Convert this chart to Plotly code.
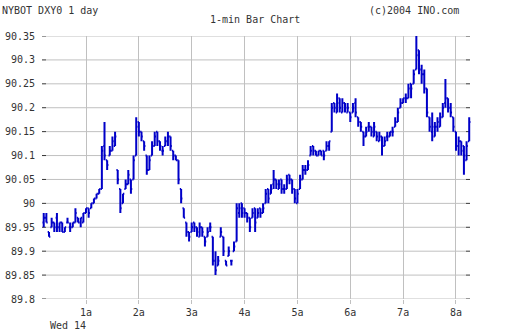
import pandas as pd
import plotly.graph_objects as go

# 3-minute bars, NYBOT DXY0, Wed 14
start_time = "2004-01-14 00:12"
bar_minutes = 3

lows = [89.95, 89.96, 89.93, 89.95, 89.94, 89.94, 89.94, 89.94, 89.94, 89.96,
        89.94, 89.95, 89.96, 89.96, 89.95, 89.96, 89.98, 89.97, 89.99, 90.00,
        90.01, 90.02, 90.03, 90.09, 90.07, 90.10, 90.11, 90.12, 90.04, 89.98,
        90.00, 90.03, 90.04, 90.02, 90.05, 90.10, 90.14, 90.13, 90.11, 90.06,
        90.07, 90.10, 90.12, 90.12, 90.11, 90.10, 90.12, 90.12, 90.11, 90.09,
        90.09, 90.04, 90.00, 89.97, 89.93, 89.92, 89.94, 89.94, 89.93, 89.93,
        89.93, 89.91, 89.93, 89.94, 89.87, 89.85, 89.87, 89.93, 89.89, 89.87,
        89.89, 89.87, 89.90, 89.92, 89.97, 89.97, 89.97, 89.96, 89.94, 89.97,
        89.94, 89.97, 89.97, 89.98, 90.00, 90.00, 90.02, 90.03, 90.03, 90.03,
        90.02, 90.02, 90.03, 90.04, 90.02, 90.00, 90.00, 90.03, 90.05, 90.06,
        90.07, 90.10, 90.10, 90.10, 90.10, 90.10, 90.09, 90.11, 90.11, 90.15,
        90.19, 90.19, 90.19, 90.19, 90.19, 90.19, 90.17, 90.19, 90.18, 90.16,
        90.15, 90.12, 90.14, 90.15, 90.14, 90.14, 90.13, 90.13, 90.10, 90.12,
        90.13, 90.14, 90.14, 90.16, 90.17, 90.20, 90.21, 90.21, 90.22, 90.22,
        90.25, 90.28, 90.27, 90.25, 90.23, 90.18, 90.15, 90.13, 90.14, 90.15,
        90.16, 90.18, 90.20, 90.19, 90.18, 90.15, 90.11, 90.10, 90.10, 90.06,
        90.09, 90.13]

highs = [89.98, 89.98, 89.94, 89.97, 89.96, 89.98, 89.96, 89.96, 89.95, 89.97,
         89.96, 89.96, 89.99, 89.97, 89.97, 89.98, 89.99, 89.99, 90.00, 90.01,
         90.02, 90.03, 90.12, 90.17, 90.09, 90.12, 90.14, 90.15, 90.07, 90.03,
         90.02, 90.05, 90.07, 90.05, 90.10, 90.18, 90.17, 90.15, 90.13, 90.10,
         90.10, 90.13, 90.15, 90.15, 90.13, 90.12, 90.14, 90.15, 90.14, 90.11,
         90.10, 90.09, 90.03, 89.99, 89.96, 89.94, 89.96, 89.96, 89.95, 89.96,
         89.95, 89.93, 89.95, 89.96, 89.93, 89.90, 89.89, 89.95, 89.93, 89.88,
         89.91, 89.88, 89.92, 90.00, 90.00, 90.00, 89.99, 89.98, 89.97, 89.99,
         89.99, 89.99, 89.99, 90.00, 90.03, 90.03, 90.04, 90.07, 90.05, 90.05,
         90.05, 90.04, 90.06, 90.06, 90.05, 90.03, 90.03, 90.06, 90.08, 90.08,
         90.09, 90.12, 90.12, 90.11, 90.11, 90.11, 90.11, 90.13, 90.13, 90.21,
         90.21, 90.23, 90.22, 90.22, 90.21, 90.21, 90.19, 90.21, 90.22, 90.18,
         90.17, 90.15, 90.16, 90.17, 90.16, 90.17, 90.15, 90.15, 90.14, 90.14,
         90.15, 90.15, 90.16, 90.18, 90.20, 90.22, 90.22, 90.23, 90.25, 90.25,
         90.28, 90.35, 90.32, 90.29, 90.28, 90.24, 90.18, 90.19, 90.17, 90.18,
         90.19, 90.21, 90.26, 90.22, 90.21, 90.18, 90.15, 90.14, 90.13, 90.12,
         90.13, 90.18]

opens = [89.96, 89.97, 89.94, 89.95, 89.96, 89.97, 89.95, 89.96, 89.94, 89.96,
         89.95, 89.95, 89.96, 89.97, 89.96, 89.96, 89.98, 89.99, 89.99, 90.00,
         90.01, 90.02, 90.03, 90.12, 90.09, 90.10, 90.11, 90.12, 90.07, 90.03,
         90.00, 90.03, 90.04, 90.05, 90.05, 90.10, 90.17, 90.15, 90.13, 90.10,
         90.07, 90.10, 90.12, 90.15, 90.13, 90.11, 90.12, 90.13, 90.14, 90.11,
         90.10, 90.09, 90.03, 89.99, 89.96, 89.94, 89.94, 89.96, 89.95, 89.93,
         89.95, 89.93, 89.93, 89.95, 89.93, 89.88, 89.87, 89.93, 89.93, 89.88,
         89.89, 89.88, 89.90, 89.92, 89.98, 90.00, 89.99, 89.98, 89.97, 89.97,
         89.99, 89.97, 89.99, 89.98, 90.00, 90.03, 90.02, 90.04, 90.05, 90.03,
         90.05, 90.03, 90.03, 90.06, 90.05, 90.03, 90.00, 90.03, 90.05, 90.07,
         90.07, 90.10, 90.12, 90.11, 90.10, 90.11, 90.11, 90.11, 90.12, 90.15,
         90.21, 90.19, 90.22, 90.19, 90.21, 90.19, 90.19, 90.19, 90.21, 90.18,
         90.17, 90.15, 90.14, 90.16, 90.16, 90.14, 90.15, 90.13, 90.14, 90.12,
         90.14, 90.14, 90.15, 90.16, 90.17, 90.20, 90.21, 90.22, 90.22, 90.25,
         90.25, 90.28, 90.32, 90.28, 90.27, 90.24, 90.18, 90.15, 90.14, 90.16,
         90.16, 90.18, 90.21, 90.22, 90.20, 90.18, 90.15, 90.12, 90.13, 90.12,
         90.09, 90.13]

closes = [89.97, 89.96, 89.93, 89.96, 89.95, 89.95, 89.96, 89.94, 89.95, 89.96,
          89.95, 89.96, 89.98, 89.96, 89.97, 89.98, 89.99, 89.98, 90.00, 90.01,
          90.02, 90.03, 90.11, 90.10, 90.08, 90.11, 90.13, 90.14, 90.05, 89.99,
          90.02, 90.04, 90.06, 90.03, 90.09, 90.16, 90.15, 90.14, 90.12, 90.07,
          90.09, 90.12, 90.14, 90.13, 90.12, 90.11, 90.13, 90.14, 90.12, 90.10,
          90.09, 90.05, 90.01, 89.97, 89.94, 89.93, 89.95, 89.95, 89.94, 89.95,
          89.94, 89.92, 89.94, 89.95, 89.88, 89.86, 89.88, 89.94, 89.90, 89.87,
          89.90, 89.88, 89.91, 89.99, 89.99, 89.98, 89.98, 89.97, 89.95, 89.98,
          89.96, 89.98, 89.98, 89.99, 90.02, 90.01, 90.03, 90.05, 90.04, 90.04,
          90.03, 90.03, 90.05, 90.05, 90.03, 90.01, 90.02, 90.05, 90.07, 90.07,
          90.08, 90.11, 90.11, 90.10, 90.11, 90.10, 90.10, 90.12, 90.13, 90.20,
          90.20, 90.21, 90.20, 90.21, 90.20, 90.20, 90.18, 90.20, 90.19, 90.17,
          90.16, 90.14, 90.15, 90.16, 90.15, 90.16, 90.14, 90.14, 90.12, 90.13,
          90.14, 90.15, 90.15, 90.17, 90.19, 90.21, 90.22, 90.22, 90.24, 90.24,
          90.27, 90.31, 90.28, 90.27, 90.24, 90.19, 90.16, 90.16, 90.16, 90.17,
          90.18, 90.20, 90.22, 90.20, 90.19, 90.16, 90.12, 90.13, 90.11, 90.10,
          90.12, 90.17]

tick_hours = ["2004-01-14 01:00", "2004-01-14 02:00", "2004-01-14 03:00", "2004-01-14 04:00",
              "2004-01-14 05:00", "2004-01-14 06:00", "2004-01-14 07:00", "2004-01-14 08:00"]
tick_labels = ["1a", "2a", "3a", "4a", "5a", "6a", "7a", "8a"]
y_ticks = [89.8, 89.85, 89.9, 89.95, 90.0, 90.05, 90.1, 90.15, 90.2, 90.25, 90.3, 90.35]
y_labels = ["89.8", "89.85", "89.9", "89.95", "90", "90.05", "90.1", "90.15",
            "90.2", "90.25", "90.3", "90.35"]

times = pd.date_range(start_time, periods=len(closes), freq=f"{bar_minutes}min")

BLUE = "#0000c8"
GRID = "#c0c0c0"
TXT = "#333333"
FONT = "DejaVu Sans Mono"

fig = go.Figure(go.Ohlc(
    x=times, open=opens, high=highs, low=lows, close=closes,
    increasing=dict(line=dict(color=BLUE, width=2)),
    decreasing=dict(line=dict(color=BLUE, width=2)),
    tickwidth=0.5, showlegend=False, hoverinfo="skip",
))

# plot area spans pixels 42..471 horizontally, 36..299 vertically
W = 471 - 42
g0, g1 = (46 - 42) / W, (466 - 42) / W
t2l = (470 - 42) / W
shapes = []
for v in y_ticks:
    shapes.append(dict(type="line", xref="paper", yref="y", x0=g0, x1=g1, y0=v, y1=v,
                       line=dict(color=GRID, width=1), layer="below"))
    shapes.append(dict(type="line", xref="paper", yref="y", x0=0, x1=g0, y0=v, y1=v,
                       line=dict(color=TXT, width=1), layer="below"))
    shapes.append(dict(type="line", xref="paper", yref="y", x0=g1, x1=t2l, y0=v, y1=v,
                       line=dict(color=TXT, width=1), layer="below"))

H = 299 - 36
fig.update_layout(
    width=512, height=335,
    margin=dict(l=42, r=41, t=36, b=36, pad=0, autoexpand=False),
    paper_bgcolor="white", plot_bgcolor="white",
    font=dict(family=FONT, size=10, color=TXT),
    shapes=shapes,
    xaxis=dict(
        type="date", automargin=False,
        range=["2004-01-14 00:10:03", "2004-01-14 08:17:02"],
        tickvals=tick_hours, ticktext=tick_labels,
        showgrid=True, gridcolor=GRID, gridwidth=1,
        ticks="outside", ticklen=4, tickcolor=GRID,
        showline=False, zeroline=False,
        rangeslider=dict(visible=False),
        tickfont=dict(family=FONT, size=10, color=TXT),
    ),
    yaxis=dict(
        automargin=False,
        range=[89.8, 90.35],
        tickvals=y_ticks, ticktext=y_labels,
        showgrid=False, zeroline=False, showline=False,
        ticks="outside", ticklen=4, tickcolor="rgba(0,0,0,0)",
        tickfont=dict(family=FONT, size=10, color=TXT),
    ),
    annotations=[
        dict(text="NYBOT DXY0 1 day", xref="paper", yref="paper",
             x=-42 / W, y=(299 - 11) / H, xanchor="left", yanchor="middle",
             showarrow=False, font=dict(family=FONT, size=10, color=TXT)),
        dict(text="(c)2004 INO.com", xref="paper", yref="paper",
             x=(461 - 42) / W, y=(299 - 11) / H, xanchor="right", yanchor="middle",
             showarrow=False, font=dict(family=FONT, size=10, color=TXT)),
        dict(text="1-min Bar Chart", xref="paper", yref="paper",
             x=(255 - 42) / W, y=(299 - 19) / H, xanchor="center", yanchor="middle",
             showarrow=False, font=dict(family=FONT, size=10, color=TXT)),
        dict(text="Wed 14", xref="paper", yref="paper",
             x=(48 - 42) / W, y=(299 - 325) / H, xanchor="left", yanchor="middle",
             showarrow=False, font=dict(family=FONT, size=10, color=TXT)),
    ],
)

fig.write_html("out.html")
